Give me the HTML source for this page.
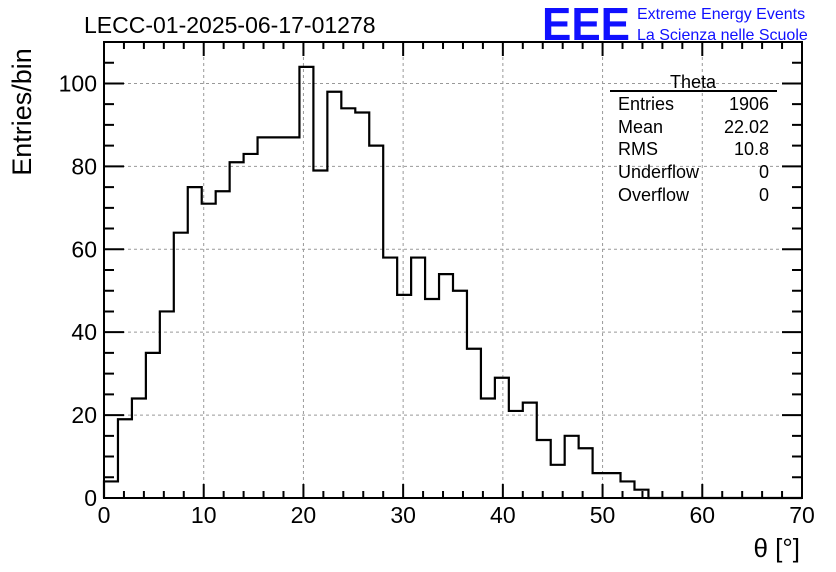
<!DOCTYPE html>
<html><head><meta charset="utf-8"><style>
body{margin:0;background:#fff;}
svg{display:block;font-family:"Liberation Sans",sans-serif;}
</style></head><body>
<svg id="c" width="836" height="572">
<g id="grid"></g>
<g id="ticks"></g>
<path id="hist" fill="none" stroke="#000" stroke-width="2.2"/>
<rect x="104" y="42" width="698" height="456" fill="none" stroke="#000" stroke-width="2"/>
<g id="labels" font-size="23"></g>
<text x="84" y="33" font-size="23">LECC-01-2025-06-17-01278</text>
<text transform="translate(31,112) rotate(-90)" text-anchor="middle" font-size="27">Entries/bin</text>
<text x="800" y="557" text-anchor="end" font-size="26">θ [°]</text>
<text x="542" y="40" font-size="46" font-weight="bold" fill="#1010ff" textLength="88" lengthAdjust="spacingAndGlyphs">EEE</text>
<text x="637" y="19" font-size="16" fill="#1010ff">Extreme Energy Events</text>
<text x="637" y="40" font-size="16" fill="#1010ff">La Scienza nelle Scuole</text>
<g font-size="18">
<text x="693" y="88" text-anchor="middle">Theta</text>
<line x1="610" y1="91" x2="777" y2="91" stroke="#000" stroke-width="2"/>
<text x="618" y="110">Entries</text><text x="769" y="110" text-anchor="end">1906</text>
<text x="618" y="133">Mean</text><text x="769" y="133" text-anchor="end">22.02</text>
<text x="618" y="155">RMS</text><text x="769" y="155" text-anchor="end">10.8</text>
<text x="618" y="178">Underflow</text><text x="769" y="178" text-anchor="end">0</text>
<text x="618" y="201">Overflow</text><text x="769" y="201" text-anchor="end">0</text>
</g>
</svg>
<script>
const counts=[4,19,24,35,45,64,75,71,74,81,83,87,87,87,104,79,98,94,93,85,58,49,58,48,54,50,36,24,29,21,23,14,8,15,12,6,6,4,2,0,0,0,0,0,0,0,0,0,0,0];
const binWidth=1.4;
const xTicks=[0,10,20,30,40,50,60,70];
const yTicks=[0,20,40,60,80,100];
const X0=104,X1=802,Y0=498,Y1=42,XMAX=70,YMAX=110;
const sx=v=>X0+v/XMAX*(X1-X0);
const sy=v=>Y0-v/YMAX*(Y0-Y1);
const NS="http://www.w3.org/2000/svg";
function mk(p,tag,attrs){const e=document.createElementNS(NS,tag);for(const k in attrs)e.setAttribute(k,attrs[k]);p.appendChild(e);return e;}
const grid=document.getElementById('grid'),ticks=document.getElementById('ticks'),labels=document.getElementById('labels');
xTicks.forEach(t=>{
 if(t>0&&t<XMAX){const g=mk(grid,'line',{x1:sx(t),x2:sx(t),y1:Y0,y2:Y1,stroke:'#999','stroke-dasharray':'3,3'});
 }
 const l=mk(labels,'text',{x:sx(t),y:523,'text-anchor':'middle'});l.textContent=t;
 
});
yTicks.forEach(t=>{
 if(t>0){const g=mk(grid,'line',{x1:X0,x2:X1,y1:sy(t),y2:sy(t),stroke:'#999','stroke-dasharray':'3,3'});
 }
 const l=mk(labels,'text',{x:97,y:sy(t)+8,'text-anchor':'end'});l.textContent=t;
 
});
let d='';
for(let v=0;v<=XMAX;v+=2){const maj=v%10===0;const h=maj?14:7;
 d+=`M${sx(v)},${Y0}v${-h}M${sx(v)},${Y1}v${h}`;}
for(let v=0;v<=YMAX;v+=5){const maj=v%20===0;const w=maj?20:10;
 d+=`M${X0},${sy(v)}h${w}M${X1},${sy(v)}h${-w}`;}
const tp=mk(ticks,'path',{d:d,stroke:'#000','stroke-width':2,fill:'none'});

let h=`M${sx(0)},${sy(0)}`;
counts.forEach((c,i)=>{h+=`L${sx(i*binWidth)},${sy(c)}L${sx((i+1)*binWidth)},${sy(c)}`;});
document.getElementById('hist').setAttribute('d',h);
</script>
</body></html>
